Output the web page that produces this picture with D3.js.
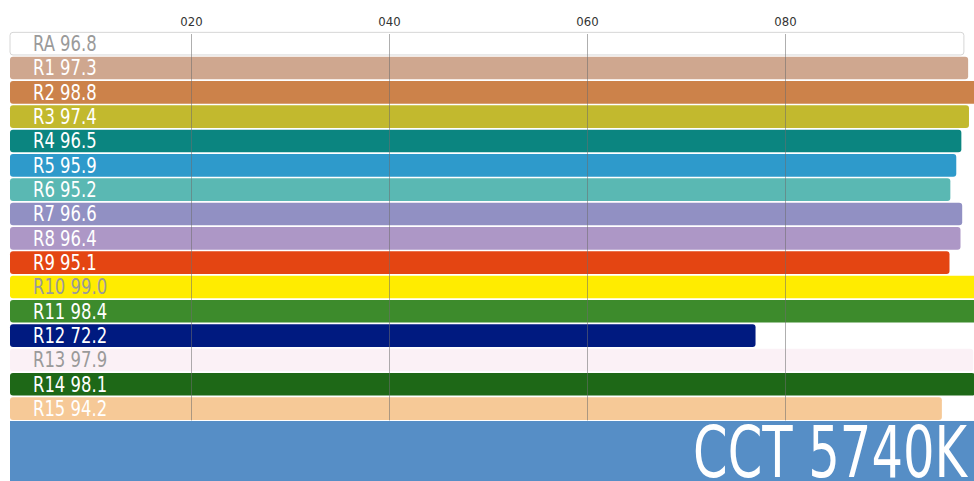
<!DOCTYPE html>
<html>
<head>
<meta charset="utf-8">
<script src="https://cdn.jsdelivr.net/npm/d3@7"></script>
<style>
  body { margin: 0; background: #fff; }
  svg { display: block; }
  text { font-family: "Liberation Sans Narrow", "DejaVu Sans Condensed", "Roboto", sans-serif; font-stretch: condensed; }
</style>
</head>
<body>
<script>
// Data
const categories = ["RA", "R1", "R2", "R3", "R4", "R5", "R6", "R7", "R8", "R9", "R10", "R11", "R12", "R13", "R14", "R15"];
const values = [96.8, 97.3, 98.8, 97.4, 96.5, 95.9, 95.2, 96.6, 96.4, 95.1, 99.0, 98.4, 72.2, 97.9, 98.1, 94.2];
const gridTicks = [20, 40, 60, 80];
const cctLabel = "CCT 5740K";

// palette, one per category
const palette = ["#ffffff", "#cfa78f", "#cc824a", "#c2b92e", "#0b8580", "#2e9acb", "#5ab8b3", "#9190c3",
                 "#ad97c6", "#e44512", "#ffec00", "#3d8b2c", "#001a80", "#fbf1f6", "#1e6817", "#f6c997"];
const lightRows = ["RA", "R10", "R13"];

let width = 974, height = 481;
let margin = { top: 32, left: 10, right: 0, bottom: 60 };

let svg = d3.select("body").append("svg")
    .attr("width", width)
    .attr("height", height);

const colorScale = d3.scaleOrdinal().domain(categories).range(palette);

// bar lengths
let xScale = d3.scaleLinear()
    .domain([0, 100])
    .range([144, 991]);

// grid / tick scale (top labels)
let gridScale = d3.scaleLinear()
    .domain([0, 100])
    .range([-7, 983]);

let yScale = d3.scaleBand()
    .domain(categories)
    .range([31.5, 420.8])
    .paddingInner(0.07)
    .paddingOuter(0.035);

// bars
svg.selectAll("rect.bar")
    .data(categories)
    .enter().append("rect")
    .attr("class", "bar")
    .attr("x", margin.left)
    .attr("y", d => yScale(d))
    .attr("width", (d, i) => xScale(values[i]) - margin.left)
    .attr("height", yScale.bandwidth())
    .attr("rx", 3)
    .style("fill", d => colorScale(d))
    .style("stroke", d => d === "RA" ? "#d6d6d6" : "none")
    .style("stroke-width", 1);

// grid lines + top tick labels
let axis = svg.append("g")
    .attr("transform", `translate(0,${margin.top + 2})`)
    .call(d3.axisTop(gridScale)
        .tickValues(gridTicks)
        .tickFormat(d3.format("03d"))
        .tickSize(-(420.5 - margin.top - 2))
        .tickPadding(8));
axis.select(".domain").remove();
axis.selectAll(".tick line")
    .attr("stroke", "rgba(110,110,110,0.55)")
    .attr("stroke-width", 1);
axis.selectAll(".tick text")
    .attr("fill", "#333")
    .style("font-size", "13px");

// row labels (squeezed a little to match the narrow face)
svg.selectAll("text.lbl")
    .data(categories)
    .enter().append("text")
    .attr("class", "lbl")
    .attr("transform", d => `translate(33,${yScale(d) + yScale.bandwidth() / 2 + 7.5}) scale(0.87,1)`)
    .text((d, i) => d + " " + values[i].toFixed(1))
    .style("font-size", "21px")
    .style("fill", d => lightRows.includes(d) ? "#9a9a9a" : "#ffffff");

// CCT banner
svg.append("rect")
    .attr("x", margin.left)
    .attr("y", 421)
    .attr("width", width - margin.left)
    .attr("height", height - 421)
    .style("fill", "#568ec6");

svg.append("text")
    .attr("x", 967)
    .attr("y", 477)
    .attr("text-anchor", "end")
    .attr("textLength", 274)
    .attr("lengthAdjust", "spacingAndGlyphs")
    .text(cctLabel)
    .style("font-size", "72px")
    .style("fill", "#fff");
</script>
</body>
</html>
